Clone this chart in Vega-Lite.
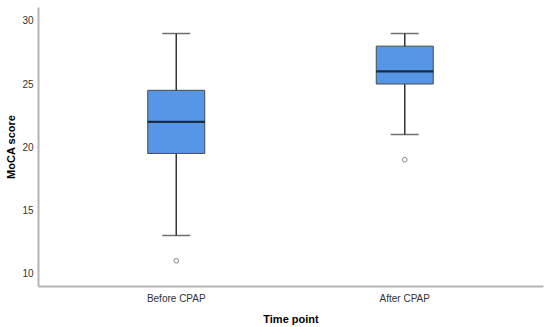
{
  "$schema": "https://vega.github.io/schema/vega-lite/v6.json",
  "autosize": {"type": "none"},
  "padding": {"left": 38, "top": 7, "right": 7, "bottom": 41},
  "width": 505,
  "height": 279,
  "background": "white",
  "config": {
    "view": {"stroke": null},
    "font": "Liberation Sans",
    "axis": {
      "grid": false,
      "ticks": false,
      "domainColor": "#b5b5b5",
      "domainWidth": 2,
      "labelColor": "#333333",
      "labelFontSize": 10,
      "labelFont": "Liberation Sans",
      "titleFont": "Liberation Sans",
      "titleFontSize": 11,
      "titleFontWeight": "bold",
      "titleColor": "#000000"
    }
  },
  "data": {
    "values": [
      {"tp": "Before CPAP", "low": 13, "q1": 19.5, "med": 22, "q3": 24.5, "high": 29, "outlier": 11},
      {"tp": "After CPAP", "low": 21, "q1": 25, "med": 26, "q3": 28, "high": 29, "outlier": 19}
    ]
  },
  "encoding": {
    "x": {
      "field": "tp",
      "type": "nominal",
      "sort": ["Before CPAP", "After CPAP"],
      "scale": {"paddingInner": 0.75, "paddingOuter": 0.48},
      "axis": {"title": "Time point", "labelAngle": 0, "labelPadding": 7, "titlePadding": 10}
    }
  },
  "layer": [
    {
      "mark": {"type": "rule", "color": "#333333", "strokeWidth": 1.5},
      "encoding": {
        "y": {
          "field": "low",
          "type": "quantitative",
          "scale": {"domain": [9, 31.1], "nice": false, "zero": false},
          "axis": {"title": "MoCA score", "values": [10, 15, 20, 25, 30], "labelPadding": 5, "titlePadding": 5}
        },
        "y2": {"field": "high"}
      }
    },
    {
      "mark": {"type": "tick", "color": "#333333", "thickness": 1.5, "size": 28, "orient": "horizontal"},
      "encoding": {"y": {"field": "low", "type": "quantitative"}}
    },
    {
      "mark": {"type": "tick", "color": "#333333", "thickness": 1.5, "size": 28, "orient": "horizontal"},
      "encoding": {"y": {"field": "high", "type": "quantitative"}}
    },
    {
      "mark": {"type": "bar", "size": 57, "fill": "#5596e6", "stroke": "#4a4a4a", "strokeWidth": 1},
      "encoding": {
        "y": {"field": "q1", "type": "quantitative"},
        "y2": {"field": "q3"}
      }
    },
    {
      "mark": {"type": "tick", "color": "#000000", "thickness": 2.2, "size": 57, "orient": "horizontal"},
      "encoding": {"y": {"field": "med", "type": "quantitative"}}
    },
    {
      "mark": {"type": "point", "shape": "circle", "filled": false, "size": 22, "stroke": "#555555", "strokeWidth": 1},
      "encoding": {"y": {"field": "outlier", "type": "quantitative"}}
    }
  ]
}
